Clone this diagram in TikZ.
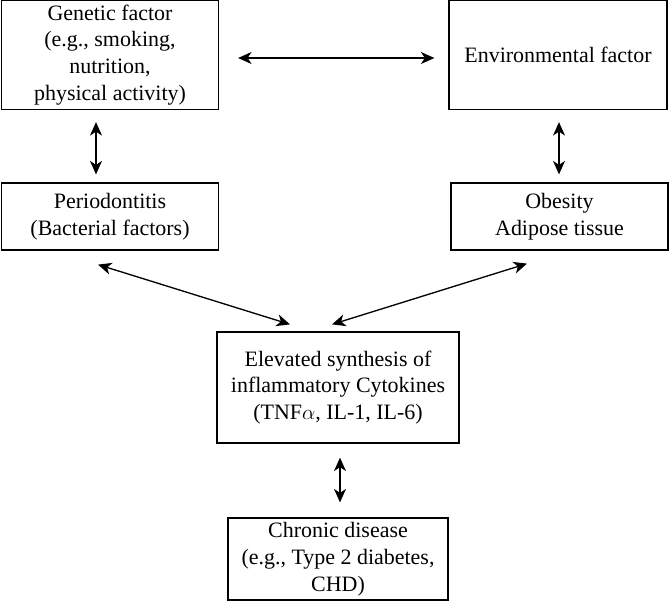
\documentclass[tikz,border=0pt]{standalone}
\usepackage{fontspec}
\setmainfont{Liberation Serif}
\usetikzlibrary{arrows.meta}
\begin{document}
\begin{tikzpicture}[x=0.02cm, y=-0.02cm,
	box/.style={draw, line width=0.7pt, align=center, inner sep=0pt, font=\fontsize{12.5}{15.3}\selectfont},
	link/.style={draw, line width=0.75pt, {Stealth[length=0.27cm, width=0.24cm, inset=0.08cm]}-{Stealth[length=0.27cm, width=0.24cm, inset=0.08cm]}}]
	\useasboundingbox (0,0) rectangle (669,602);
	\node[box, minimum width=217*0.02cm, minimum height=109*0.02cm] (genetic) at (110,55) {Genetic factor\\(e.g., smoking,\\nutrition,\\physical activity)};
	\node[box, minimum width=218*0.02cm, minimum height=109*0.02cm] (env) at (558,55) {Environmental factor};
	\node[box, minimum width=217*0.02cm, minimum height=67*0.02cm] (perio) at (110,216.5) {Periodontitis\\(Bacterial factors)};
	\node[box, minimum width=217*0.02cm, minimum height=67*0.02cm] (obesity) at (559.5,216.5) {Obesity\\Adipose tissue};
	\node[box, minimum width=242*0.02cm, minimum height=111*0.02cm] (elevated) at (338,387.5) {Elevated synthesis of\\inflammatory Cytokines\\(TNF$\alpha$, IL-1, IL-6)};
	\node[box, minimum width=220*0.02cm, minimum height=82*0.02cm] (chronic) at (338,559) {Chronic disease\\(e.g., Type 2 diabetes,\\CHD)};

	\draw[link, shorten <=0.38cm, shorten >=0.28cm] ([shift={(0,3)}]genetic.east) -- ([shift={(0,3)}]env.west);
	\draw[link, shorten <=0.24cm, shorten >=0.16cm] ([shift={(-14,0)}]genetic.south) -- ([shift={(-14,0)}]perio.north);
	\draw[link, shorten <=0.24cm, shorten >=0.16cm] ([shift={(1,0)}]env.south) -- ([shift={(-0.5,0)}]obesity.north);
	\draw[link] ([shift={(-12,14)}]perio.south) -- ([shift={(-48,-7)}]elevated.north);
	\draw[link] ([shift={(-32.5,13)}]obesity.south) -- ([shift={(-6,-7)}]elevated.north);
	\draw[link, shorten <=0.28cm, shorten >=0.3cm] ([shift={(2,0)}]elevated.south) -- ([shift={(2,0)}]chronic.north);
\end{tikzpicture}
\end{document}
